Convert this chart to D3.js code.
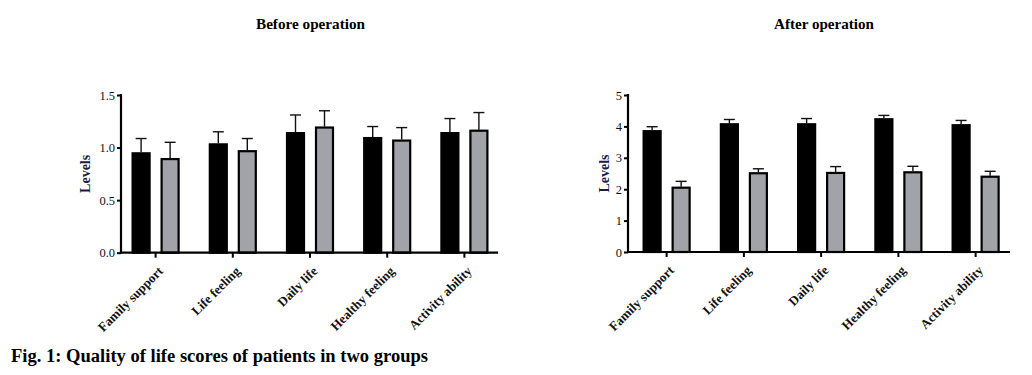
<!DOCTYPE html>
<html>
<head>
<meta charset="utf-8">
<script src="https://cdn.jsdelivr.net/npm/d3@7"></script>
<style>
  body { margin: 0; background: #fff; }
  svg, svg text { font-family: 'Liberation Serif', 'DejaVu Serif', serif !important; }
</style>
</head>
<body>
<svg id="visualization" width="1032" height="375"></svg>
<script>
const categories = ["Family support", "Life feeling", "Daily life", "Healthy feeling", "Activity ability"];

// before operation: bar means and upper error ends
const beforeBlack = [0.955, 1.04, 1.147, 1.10, 1.147];
const beforeBlackErr = [1.086, 1.15, 1.31, 1.20, 1.276];
const beforeGray = [0.90, 0.975, 1.20, 1.076, 1.17];
const beforeGrayErr = [1.05, 1.086, 1.35, 1.19, 1.333];

// after operation
const afterBlack = [3.88, 4.10, 4.10, 4.26, 4.07];
const afterBlackErr = [3.99, 4.22, 4.25, 4.35, 4.19];
const afterGray = [2.08, 2.54, 2.55, 2.57, 2.43];
const afterGrayErr = [2.25, 2.65, 2.72, 2.73, 2.57];

const beforeTicks = [0, 0.5, 1.0, 1.5];
const afterTicks = [0, 1, 2, 3, 4, 5];

const svg = d3.select("#visualization");

const drawPanel = (opt) => {
    const g = svg.append("g");

    const xScale = d3.scaleBand()
        .domain(categories)
        .range(opt.xRange);
    const yScale = d3.scaleLinear()
        .domain(opt.yDomain)
        .range(opt.yRange);

    const barW = 19;
    const offset = 14.5;
    const series = [
        { vals: opt.black, errs: opt.blackErr, dx: -offset, fill: "#000" },
        { vals: opt.gray, errs: opt.grayErr, dx: offset, fill: "#a2a2a9" }
    ];

    series.forEach(s => {
        const cx = (d, i) => xScale(categories[i]) + xScale.bandwidth() / 2 + s.dx;

        // error bars (upper only)
        g.selectAll(null)
            .data(s.vals)
            .join("line")
            .attr("x1", cx).attr("x2", cx)
            .attr("y1", d => yScale(d))
            .attr("y2", (d, i) => yScale(s.errs[i]))
            .attr("stroke", "#111")
            .attr("stroke-width", 1.4);
        g.selectAll(null)
            .data(s.vals)
            .join("line")
            .attr("x1", (d, i) => cx(d, i) - 5.5)
            .attr("x2", (d, i) => cx(d, i) + 5.5)
            .attr("y1", (d, i) => yScale(s.errs[i]))
            .attr("y2", (d, i) => yScale(s.errs[i]))
            .attr("stroke", "#111")
            .attr("stroke-width", 1.4);

        g.selectAll(null)
            .data(s.vals)
            .join("rect")
            .attr("x", (d, i) => cx(d, i) - barW / 2 + 1)
            .attr("width", barW - 2)
            .attr("y", d => yScale(d) + 1)
            .attr("height", d => yScale(0) - yScale(d) - 1)
            .attr("fill", s.fill)
            .attr("stroke", "#000")
            .attr("stroke-width", 2.2);
    });

    // y axis
    const yAxis = d3.axisLeft(yScale)
        .tickValues(opt.ticks)
        .tickFormat(d3.format(opt.fmt))
        .tickSize(4)
        .tickPadding(2);
    const ya = g.append("g")
        .attr("transform", `translate(${opt.xAxisStart}, 0)`)
        .call(yAxis);
    ya.attr("font-family", null);
    ya.select(".domain").remove();
    ya.selectAll(".tick line").attr("stroke", "#000").attr("stroke-width", 2);
    ya.selectAll(".tick text")
        .attr("font-size", 12.5)
        .attr("fill", "#111");
    g.append("line")
        .attr("x1", opt.xAxisStart).attr("x2", opt.xAxisStart)
        .attr("y1", yScale(opt.yDomain[1]) - 1)
        .attr("y2", yScale(0) + 1)
        .attr("stroke", "#000")
        .attr("stroke-width", 2.2);

    // x axis
    const xAxis = d3.axisBottom(xScale).tickSize(5).tickPadding(0);
    const xa = g.append("g")
        .attr("transform", `translate(0, ${yScale(0)})`)
        .call(xAxis);
    xa.attr("font-family", null);
    xa.select(".domain").remove();
    xa.selectAll(".tick line").attr("stroke", "#000").attr("stroke-width", 2);
    xa.selectAll(".tick text")
        .attr("y", 0)
        .attr("dy", "0.35em")
        .attr("font-weight", "bold")
        .attr("font-size", 13)
        .attr("fill", "#111")
        .attr("text-anchor", "end")
        .attr("transform", "translate(5, 16) rotate(-45)");
    g.append("line")
        .attr("x1", opt.xAxisStart - 1).attr("x2", opt.xAxisEnd)
        .attr("y1", yScale(0)).attr("y2", yScale(0))
        .attr("stroke", "#000")
        .attr("stroke-width", 2.2);

    // axis title
    g.append("text")
        .attr("transform", `translate(${opt.xAxisStart - opt.labelGap}, ${(yScale(0) + yScale(opt.yDomain[1])) / 2}) rotate(-90)`)
        .attr("text-anchor", "middle")
        .attr("font-weight", "bold")
        .attr("font-size", 14)
        .attr("fill", "#1b1b45")
        .text("Levels");

    // panel title
    g.append("text")
        .attr("x", opt.titleX)
        .attr("y", 29)
        .attr("text-anchor", "middle")
        .attr("font-weight", "bold")
        .attr("font-size", 14)
        .attr("fill", "#000")
        .attr("textLength", opt.titleLen)
        .attr("lengthAdjust", "spacingAndGlyphs")
        .text(opt.title);
};

drawPanel({
    title: "Before operation",
    titleX: 310.5,
    titleLen: 109,
    xRange: [117, 503],
    xAxisStart: 121,
    xAxisEnd: 498,
    labelGap: 31,
    yDomain: [0, 1.5],
    yRange: [252.7, 95],
    ticks: beforeTicks,
    fmt: ".1f",
    black: beforeBlack, blackErr: beforeBlackErr,
    gray: beforeGray, grayErr: beforeGrayErr
});

drawPanel({
    title: "After operation",
    titleX: 824,
    titleLen: 100,
    xRange: [628, 1014.25],
    xAxisStart: 628,
    xAxisEnd: 1010,
    labelGap: 19,
    yDomain: [0, 5],
    yRange: [252, 95],
    ticks: afterTicks,
    fmt: "d",
    black: afterBlack, blackErr: afterBlackErr,
    gray: afterGray, grayErr: afterGrayErr
});

svg.append("text")
    .attr("x", 11)
    .attr("y", 362)
    .attr("font-weight", "bold")
    .attr("font-size", 18)
    .attr("fill", "#000")
    .attr("textLength", 417)
    .attr("lengthAdjust", "spacingAndGlyphs")
    .text("Fig. 1: Quality of life scores of patients in two groups");
</script>
</body>
</html>
